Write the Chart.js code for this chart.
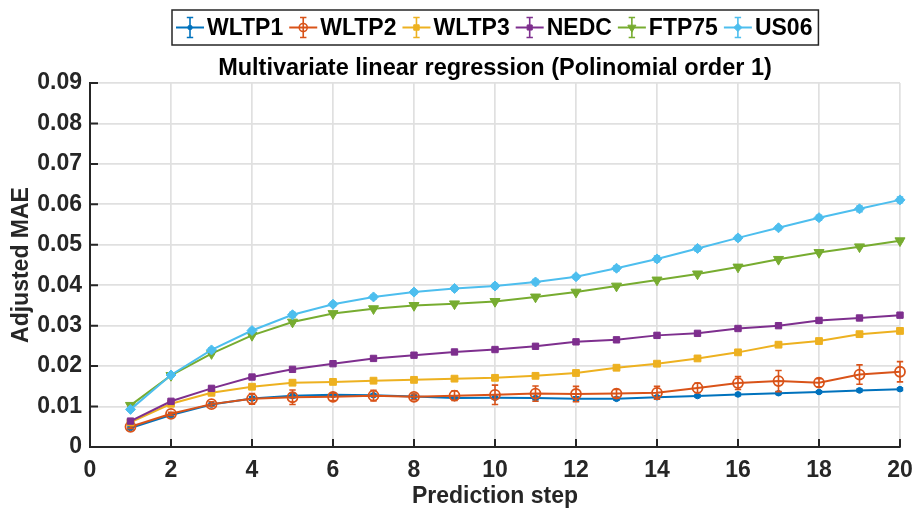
<!DOCTYPE html>
<html>
<head>
<meta charset="utf-8">
<script src="https://cdn.jsdelivr.net/npm/chart.js@4/dist/chart.umd.min.js"></script>
<style>
  html, body { margin: 0; padding: 0; background: #ffffff; }
  #wrap { width: 917px; height: 514px; }
</style>
</head>
<body>
<div id="wrap"><canvas id="c" width="917" height="514"></canvas></div>
<script>
// Prediction steps 1..20
const steps = [1, 2, 3, 4, 5, 6, 7, 8, 9, 10, 11, 12, 13, 14, 15, 16, 17, 18, 19, 20];

// Mean adjusted MAE per driving cycle
const wltp1 = [0.0047, 0.0079, 0.0105, 0.0120, 0.0127, 0.0129, 0.0128, 0.0125, 0.0121, 0.0122, 0.0121, 0.0119, 0.0119, 0.0123, 0.0126, 0.0130, 0.0133, 0.0136, 0.0140, 0.0143];
const wltp2 = [0.0050, 0.0082, 0.0106, 0.0119, 0.0123, 0.0124, 0.0127, 0.0124, 0.0127, 0.0129, 0.0132, 0.0131, 0.0132, 0.0134, 0.0146, 0.0158, 0.0163, 0.0159, 0.0179, 0.0186];
const wltp3 = [0.0061, 0.0107, 0.0134, 0.0149, 0.0159, 0.0161, 0.0164, 0.0166, 0.0169, 0.0171, 0.0176, 0.0183, 0.0196, 0.0206, 0.0219, 0.0234, 0.0253, 0.0262, 0.0279, 0.0287];
const nedc  = [0.0064, 0.0113, 0.0145, 0.0173, 0.0192, 0.0206, 0.0219, 0.0227, 0.0235, 0.0241, 0.0249, 0.0260, 0.0265, 0.0276, 0.0281, 0.0293, 0.0300, 0.0313, 0.0319, 0.0326];
const ftp75 = [0.0103, 0.0177, 0.0231, 0.0276, 0.0309, 0.0330, 0.0342, 0.0350, 0.0354, 0.0360, 0.0371, 0.0383, 0.0398, 0.0413, 0.0428, 0.0445, 0.0464, 0.0481, 0.0495, 0.0510];
const us06  = [0.0093, 0.0178, 0.0240, 0.0288, 0.0327, 0.0353, 0.0371, 0.0383, 0.0392, 0.0398, 0.0408, 0.0421, 0.0442, 0.0465, 0.0491, 0.0517, 0.0542, 0.0567, 0.0589, 0.0611];

// Half-width of the error bars
const wltp1Err = [0.0003, 0.0003, 0.0003, 0.0004, 0.0006, 0.0004, 0.0003, 0.0003, 0.0003, 0.0003, 0.0004, 0.0005, 0.0003, 0.0003, 0.0003, 0.0003, 0.0003, 0.0003, 0.0003, 0.0003];
const wltp2Err = [0.0004, 0.0004, 0.0006, 0.0013, 0.0018, 0.0009, 0.0013, 0.0007, 0.0012, 0.0024, 0.0019, 0.0019, 0.0010, 0.0016, 0.0012, 0.0016, 0.0026, 0.0010, 0.0024, 0.0025];
const wltp3Err = [0.0002, 0.0003, 0.0004, 0.0004, 0.0004, 0.0003, 0.0003, 0.0003, 0.0003, 0.0003, 0.0003, 0.0003, 0.0004, 0.0003, 0.0004, 0.0004, 0.0005, 0.0004, 0.0005, 0.0005];
const nedcErr  = [0.0003, 0.0003, 0.0003, 0.0003, 0.0002, 0.0002, 0.0003, 0.0003, 0.0004, 0.0004, 0.0003, 0.0004, 0.0003, 0.0005, 0.0004, 0.0004, 0.0003, 0.0005, 0.0003, 0.0003];
const ftp75Err = [0.0002, 0.0002, 0.0002, 0.0002, 0.0002, 0.0002, 0.0002, 0.0002, 0.0002, 0.0002, 0.0002, 0.0002, 0.0002, 0.0002, 0.0002, 0.0002, 0.0002, 0.0002, 0.0002, 0.0002];
const us06Err  = [0.0004, 0.0004, 0.0005, 0.0005, 0.0006, 0.0005, 0.0005, 0.0005, 0.0005, 0.0006, 0.0006, 0.0005, 0.0006, 0.0007, 0.0006, 0.0006, 0.0005, 0.0006, 0.0007, 0.0007];

const seriesNames = ['WLTP1', 'WLTP2', 'WLTP3', 'NEDC', 'FTP75', 'US06'];
const seriesValues = [wltp1, wltp2, wltp3, nedc, ftp75, us06];
const seriesErrors = [wltp1Err, wltp2Err, wltp3Err, nedcErr, ftp75Err, us06Err];

const xTicks = [0, 2, 4, 6, 8, 10, 12, 14, 16, 18, 20];
const yTicks = [0, 0.01, 0.02, 0.03, 0.04, 0.05, 0.06, 0.07, 0.08, 0.09];

const chartTitle = 'Multivariate linear regression (Polinomial order 1)';
const xTitle = 'Prediction step';
const yTitle = 'Adjusted MAE';

const colors = ['#0072BD', '#D95319', '#EDB120', '#7E2F8E', '#77AC30', '#4DBEEE'];
const markers = [
  { style: 'circle', radius: 2.8, fill: true, rotation: 0 },
  { style: 'circle', radius: 5, fill: false, rotation: 0 },
  { style: 'rect', radius: 4.8, fill: true, rotation: 0 },
  { style: 'rect', radius: 4.5, fill: true, rotation: 0 },
  { style: 'triangle', radius: 5.8, fill: true, rotation: 180 },
  { style: 'rectRot', radius: 5, fill: true, rotation: 0 }
];

const FONT = '"Liberation Sans", Arial, Helvetica, sans-serif';
const AXIS_DARK = '#262626';
const LABEL_SIZE = 23;

const datasets = seriesNames.map((name, i) => ({
  label: name,
  data: steps.map((s, k) => ({ x: s, y: seriesValues[i][k] })),
  borderColor: colors[i],
  backgroundColor: markers[i].fill ? colors[i] : 'rgba(0,0,0,0)',
  borderWidth: 2,
  pointStyle: markers[i].style,
  pointRadius: markers[i].radius,
  pointRotation: markers[i].rotation,
  pointBorderWidth: markers[i].fill ? 1 : 1.8,
  pointBorderColor: colors[i],
  pointBackgroundColor: markers[i].fill ? colors[i] : 'rgba(0,0,0,0)',
  tension: 0,
  clip: false,
  order: seriesNames.length - i
}));

function drawErrorBar(ctx, x, yTop, yBot, cap) {
  ctx.beginPath();
  ctx.moveTo(x, yTop); ctx.lineTo(x, yBot);
  ctx.moveTo(x - cap, yTop); ctx.lineTo(x + cap, yTop);
  ctx.moveTo(x - cap, yBot); ctx.lineTo(x + cap, yBot);
  ctx.stroke();
}

// Vertical error bars, drawn right after each series so the stacking follows the series order
const errorBarPlugin = {
  id: 'errorBars',
  afterDatasetDraw(chart, args) {
    const i = args.index;
    const errs = seriesErrors[i];
    const vals = seriesValues[i];
    const yScale = chart.scales.y;
    const ctx = chart.ctx;
    ctx.save();
    ctx.strokeStyle = colors[i];
    ctx.lineWidth = 1.6;
    args.meta.data.forEach((pt, k) => {
      const yTop = yScale.getPixelForValue(vals[k] + errs[k]);
      const yBot = yScale.getPixelForValue(vals[k] - errs[k]);
      drawErrorBar(ctx, pt.x, yTop, yBot, 3.2);
    });
    ctx.restore();
  }
};

// Inward tick marks, title and boxed legend
const decorPlugin = {
  id: 'decor',
  afterDraw(chart) {
    const ctx = chart.ctx;
    const area = chart.chartArea;
    const xs = chart.scales.x, ys = chart.scales.y;
    ctx.save();
    ctx.strokeStyle = AXIS_DARK;
    ctx.lineWidth = 2;
    ctx.beginPath();
    xTicks.forEach(v => {
      const px = xs.getPixelForValue(v);
      ctx.moveTo(px, area.bottom); ctx.lineTo(px, area.bottom - 8);
    });
    yTicks.forEach(v => {
      const py = ys.getPixelForValue(v);
      ctx.moveTo(area.left, py); ctx.lineTo(area.left + 8, py);
    });
    ctx.stroke();

    // title
    const cx = (area.left + area.right) / 2;
    ctx.fillStyle = '#000000';
    ctx.font = 'bold 23.5px ' + FONT;
    ctx.textAlign = 'center';
    ctx.textBaseline = 'middle';
    ctx.fillText(chartTitle, cx, 68.5);

    // legend
    ctx.font = 'bold 23px ' + FONT;
    const glyphW = 28, glyphGap = 3, itemGap = 6, padL = 4, padR = 6;
    const widths = seriesNames.map(n => ctx.measureText(n).width);
    let total = padL + padR;
    widths.forEach((w, i) => { total += glyphW + glyphGap + w + (i < widths.length - 1 ? itemGap : 0); });
    const boxL = Math.round(cx - total / 2);
    const boxT = 10, boxB = 45;
    const midY = (boxT + boxB) / 2;
    ctx.fillStyle = '#ffffff';
    ctx.fillRect(boxL, boxT, total, boxB - boxT);
    ctx.strokeStyle = AXIS_DARK;
    ctx.lineWidth = 1.5;
    ctx.strokeRect(boxL, boxT, total, boxB - boxT);

    let x = boxL + padL;
    seriesNames.forEach((name, i) => {
      const gx = x + glyphW / 2;
      ctx.strokeStyle = colors[i];
      ctx.lineWidth = 2;
      ctx.beginPath();
      ctx.moveTo(x, midY); ctx.lineTo(x + glyphW, midY);
      ctx.stroke();
      ctx.lineWidth = 1.6;
      drawErrorBar(ctx, gx, midY - 10, midY + 10, 3.2);
      const m = markers[i];
      const opts = {
        pointStyle: m.style, radius: m.radius * 0.8, rotation: m.rotation,
        borderWidth: m.fill ? 1 : 1.6
      };
      ctx.strokeStyle = colors[i];
      ctx.lineWidth = opts.borderWidth;
      ctx.fillStyle = m.fill ? colors[i] : 'rgba(0,0,0,0)';
      Chart.helpers.drawPoint(ctx, opts, gx, midY);
      ctx.fillStyle = '#000000';
      ctx.textAlign = 'left';
      ctx.textBaseline = 'middle';
      ctx.fillText(name, x + glyphW + glyphGap, midY + 1);
      x += glyphW + glyphGap + widths[i] + itemGap;
    });
    ctx.restore();
  }
};

new Chart(document.getElementById('c'), {
  type: 'line',
  data: { datasets },
  options: {
    responsive: false,
    animation: false,
    devicePixelRatio: 1,
    layout: { padding: { left: 8, right: 17, top: 83, bottom: 4 } },
    plugins: {
      legend: { display: false },
      title: { display: false },
      tooltip: { enabled: false }
    },
    scales: {
      x: {
        type: 'linear',
        min: 0, max: 20,
        afterFit: s => { s.height = 63; s.paddingRight = 0; s.paddingLeft = 0; },
        afterBuildTicks: s => { s.ticks = xTicks.map(v => ({ value: v })); },
        ticks: {
          color: AXIS_DARK,
          font: { family: FONT, size: LABEL_SIZE, weight: 'bold' },
          padding: 10,
          maxRotation: 0,
          autoSkip: false
        },
        grid: { color: '#e0e0e0', lineWidth: 1.7, drawTicks: false },
        border: { display: true, color: AXIS_DARK, width: 2 },
        title: {
          display: true, text: xTitle, color: AXIS_DARK,
          font: { family: FONT, size: LABEL_SIZE, weight: 'bold' },
          padding: { top: 0, bottom: 0 }
        }
      },
      y: {
        type: 'linear',
        min: 0, max: 0.09,
        afterFit: s => { s.width = 82; s.paddingTop = 0; s.paddingBottom = 0; },
        afterBuildTicks: s => { s.ticks = yTicks.map(v => ({ value: v })); },
        ticks: {
          color: AXIS_DARK,
          font: { family: FONT, size: LABEL_SIZE, weight: 'bold' },
          padding: 8,
          autoSkip: false,
          callback: v => (v === 0 ? '0' : v.toFixed(2))
        },
        grid: { color: '#e0e0e0', lineWidth: 1.7, drawTicks: false },
        border: { display: true, color: AXIS_DARK, width: 2 },
        title: {
          display: true, text: yTitle, color: AXIS_DARK,
          font: { family: FONT, size: LABEL_SIZE, weight: 'bold' },
          padding: { top: 0, bottom: 0 }
        }
      }
    }
  },
  plugins: [errorBarPlugin, decorPlugin]
});
</script>
</body>
</html>
